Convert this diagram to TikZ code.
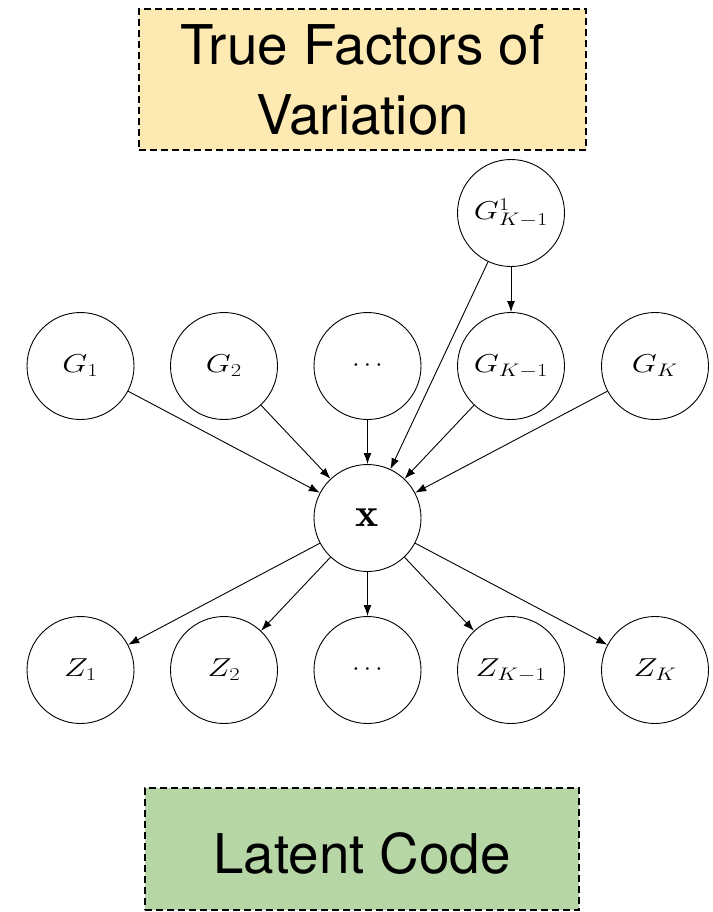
\RequirePackage{fix-cm}
\documentclass[tikz,border=0pt]{standalone}
\usepackage{fontspec}
\setsansfont{TeX Gyre Heros}
\usetikzlibrary{arrows.meta}
\definecolor{factorfill}{RGB}{253,233,178}
\definecolor{codefill}{RGB}{183,214,165}
% variable labels are set slightly wide
\newcommand\varlabel[1]{\scalebox{1.25}[1]{$#1$}}
\begin{document}
\begin{tikzpicture}[x=1bp,y=-1bp,
  var/.style={circle,draw,line width=0.9bp,minimum size=107bp,inner sep=0pt,
    font=\fontsize{26}{30}\selectfont},
  edge/.style={line width=0.9bp,-{Latex[length=11bp,width=8bp]}},
  groupbox/.style={draw,line width=2bp,dash pattern=on 7bp off 4bp,
    font=\sffamily\fontsize{55}{70}\selectfont,inner sep=0pt}]
\useasboundingbox (0,0) rectangle (713,912);

% group labels
\node[groupbox,fill=factorfill,minimum width=447bp,minimum height=141bp,
  align=center] (factors) at (362.5,79.5) {True Factors of\\Variation};
\node[groupbox,fill=codefill,minimum width=434bp,minimum height=122bp,
  text height=48bp,text depth=0bp] (code) at (362,849) {Latent Code};

% generative factors
\node[var] (gk1sup) at (511,213) {\varlabel{G^1_{K-1}}};
\node[var] (g1)  at (80.5,366) {\varlabel{G_1}};
\node[var] (g2)  at (224,366)  {\varlabel{G_2}};
\node[var] (gd)  at (367.5,366) {$\cdots$};
\node[var] (gk1) at (511,366)  {\varlabel{G_{K-1}}};
\node[var] (gk)  at (655,366)  {\varlabel{G_K}};

% observation
\node[var,font=\fontsize{40}{44}\selectfont] (x) at (367.5,518)
  {\scalebox{1.1}[1]{$\mathbf{x}$}};

% latent code
\node[var] (z1)  at (80.5,670) {\varlabel{Z_1}};
\node[var] (z2)  at (224,670)  {\varlabel{Z_2}};
\node[var] (zd)  at (367.5,670) {$\cdots$};
\node[var] (zk1) at (511,670)  {\varlabel{Z_{K-1}}};
\node[var] (zk)  at (655,670)  {\varlabel{Z_K}};

% edges
\draw[edge] (gk1sup) -- (gk1);
\draw[edge] (gk1sup) -- (x);
\foreach \n in {g1,g2,gd,gk1,gk}
  \draw[edge] (\n) -- (x);
\foreach \n in {z1,z2,zd,zk1,zk}
  \draw[edge] (x) -- (\n);
\end{tikzpicture}
\end{document}
